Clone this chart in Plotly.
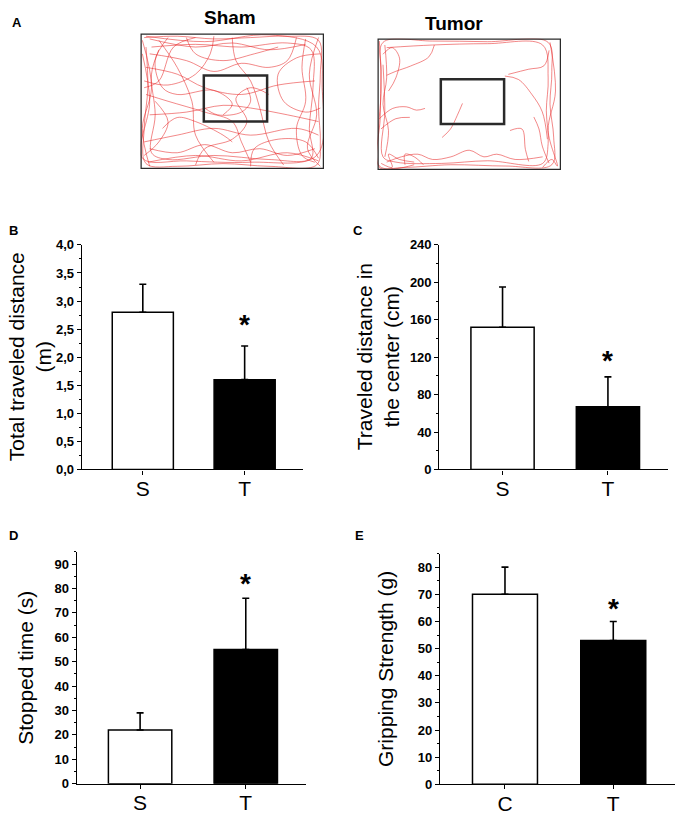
import plotly.graph_objects as go

W, H = 680, 827

# ---- panel A: open-field tracks (normalised arena coords, y up) ----
sham_tracks = [
    [(0.02, 0.97), (0.2, 0.98), (0.4, 0.96), (0.6, 0.97), (0.8, 0.98), (0.97, 0.95), (0.98, 0.7),
     (0.97, 0.45), (0.98, 0.2), (0.96, 0.03), (0.7, 0.02), (0.45, 0.04), (0.2, 0.02), (0.03, 0.04),
     (0.02, 0.3), (0.04, 0.6), (0.03, 0.9)],
    [(0.06, 0.9), (0.3, 0.92), (0.55, 0.9), (0.8, 0.93), (0.93, 0.88), (0.94, 0.6), (0.92, 0.3),
     (0.93, 0.08), (0.7, 0.07), (0.4, 0.1), (0.15, 0.07), (0.06, 0.12), (0.08, 0.4), (0.06, 0.7), (0.1, 0.88)],
    [(0.03, 0.75), (0.2, 0.7), (0.35, 0.6), (0.55, 0.55), (0.75, 0.62), (0.95, 0.65)],
    [(0.05, 0.4), (0.25, 0.42), (0.45, 0.47), (0.6, 0.45), (0.8, 0.4), (0.97, 0.35)],
    [(0.1, 0.95), (0.2, 0.75), (0.28, 0.5), (0.3, 0.25), (0.4, 0.05)],
    [(0.5, 0.97), (0.52, 0.8), (0.6, 0.65), (0.65, 0.45), (0.7, 0.2), (0.78, 0.03)],
    [(0.02, 0.2), (0.2, 0.25), (0.4, 0.3), (0.6, 0.25), (0.85, 0.3), (0.97, 0.25)],
    [(0.15, 0.97), (0.08, 0.8), (0.12, 0.6), (0.2, 0.55), (0.4, 0.58), (0.5, 0.48), (0.45, 0.4)],
    [(0.85, 0.97), (0.8, 0.8), (0.7, 0.75), (0.55, 0.78), (0.4, 0.72), (0.25, 0.8), (0.05, 0.85)],
    [(0.03, 0.55), (0.15, 0.5), (0.35, 0.42), (0.5, 0.35), (0.55, 0.2), (0.6, 0.05)],
    [(0.9, 0.96), (0.88, 0.75), (0.9, 0.5), (0.85, 0.3), (0.88, 0.1), (0.95, 0.05)],
    [(0.05, 0.15), (0.2, 0.12), (0.35, 0.18), (0.5, 0.12), (0.65, 0.15), (0.8, 0.1), (0.95, 0.15)],
    [(0.58, 0.6), (0.6, 0.5), (0.55, 0.42), (0.42, 0.4), (0.35, 0.45)],
    [(0.25, 0.97), (0.3, 0.85), (0.45, 0.8), (0.62, 0.85), (0.75, 0.9)],
    [(0.12, 0.3), (0.2, 0.38), (0.3, 0.35), (0.45, 0.25), (0.5, 0.2)],
    [(0.03, 0.98), (0.35, 0.94), (0.7, 0.99), (0.96, 0.9), (0.99, 0.6), (0.96, 0.1), (0.6, 0.05),
     (0.25, 0.06), (0.01, 0.08), (0.05, 0.5), (0.01, 0.85)],
    [(0.02, 0.6), (0.1, 0.65), (0.18, 0.9), (0.3, 0.97)],
    [(0.4, 0.98), (0.38, 0.85), (0.3, 0.7), (0.15, 0.62), (0.02, 0.65)],
    [(0.98, 0.85), (0.85, 0.82), (0.75, 0.7), (0.78, 0.5), (0.9, 0.42), (0.98, 0.45)],
    [(0.6, 0.02), (0.62, 0.15), (0.75, 0.22), (0.9, 0.2), (0.97, 0.08)],
    [(0.02, 0.1), (0.1, 0.2), (0.15, 0.35), (0.08, 0.5)],
    [(0.3, 0.03), (0.35, 0.15), (0.5, 0.22), (0.58, 0.35), (0.52, 0.52), (0.6, 0.6), (0.7, 0.55)],
    [(0.05, 0.96), (0.3, 0.9), (0.5, 0.93), (0.7, 0.88), (0.9, 0.92)],
    [(0.04, 0.05), (0.3, 0.1), (0.55, 0.06), (0.8, 0.12), (0.97, 0.06)],
    [(0.97, 0.97), (0.92, 0.7), (0.96, 0.4), (0.91, 0.15), (0.98, 0.02)],
    [(0.01, 0.95), (0.06, 0.6), (0.01, 0.3), (0.05, 0.02)],
]

tumor_tracks = [
    [(0.03, 0.97), (0.3, 0.98), (0.6, 0.975), (0.93, 0.97), (0.95, 0.75), (0.94, 0.5), (0.96, 0.25),
     (0.95, 0.04), (0.7, 0.03), (0.4, 0.04), (0.15, 0.02), (0.01, 0.03), (0.015, 0.4), (0.02, 0.75), (0.03, 0.97)],
    [(0.05, 0.93), (0.3, 0.95), (0.6, 0.96), (0.9, 0.95), (0.93, 0.7), (0.92, 0.45), (0.93, 0.2),
     (0.9, 0.05), (0.6, 0.07), (0.35, 0.05), (0.1, 0.06), (0.03, 0.1), (0.04, 0.45), (0.03, 0.8)],
    [(0.05, 0.72), (0.1, 0.75), (0.18, 0.79), (0.28, 0.86), (0.31, 0.95)],
    [(0.03, 0.88), (0.08, 0.93), (0.12, 0.85), (0.1, 0.7), (0.06, 0.6)],
    [(0.694, 0.714), (0.768, 0.688), (0.843, 0.571), (0.898, 0.442), (0.926, 0.234)],
    [(0.713, 0.727), (0.824, 0.766), (0.907, 0.792), (0.935, 0.909)],
    [(0.01, 0.39), (0.083, 0.468), (0.157, 0.48), (0.213, 0.455), (0.259, 0.468)],
    [(0.019, 0.312), (0.1, 0.39), (0.176, 0.40)],
    [(0.463, 0.506), (0.435, 0.416), (0.398, 0.312), (0.352, 0.247)],
    [(0.722, 0.3), (0.787, 0.312), (0.806, 0.156), (0.824, 0.065)],
    [(0.852, 0.403), (0.88, 0.312), (0.898, 0.182), (0.935, 0.052)],
    [(0.05, 0.06), (0.13, 0.1), (0.22, 0.12), (0.3, 0.08), (0.4, 0.1), (0.5, 0.15), (0.58, 0.1),
     (0.65, 0.12), (0.75, 0.08), (0.9, 0.1)],
    [(0.04, 0.95), (0.05, 0.7), (0.03, 0.5), (0.06, 0.3), (0.04, 0.1)],
    [(0.01, 0.98), (0.02, 0.6), (0.005, 0.3), (0.01, 0.02), (0.1, 0.01), (0.2, 0.04)],
    [(0.02, 0.05), (0.08, 0.02), (0.06, 0.12), (0.12, 0.08), (0.2, 0.06)],
    [(0.15, 0.04), (0.15, 0.12), (0.2, 0.1), (0.25, 0.04)],
    [(0.9, 0.02), (0.95, 0.08), (0.98, 0.03), (0.93, 0.3), (0.97, 0.6), (0.94, 0.97)],
]

# ---- bar panels ----
groups_b = ["S", "T"]
dist_total = [2.8, 1.6]
dist_total_err = [0.5, 0.6]

groups_c = ["S", "T"]
dist_center = [152, 67]
dist_center_err = [43, 32]

groups_d = ["S", "T"]
stopped = [22, 55]
stopped_err = [7, 21]

groups_e = ["C", "T"]
grip = [70, 53]
grip_err = [10, 7]


def px(x):
    return x / W


def py(y):
    return 1 - y / H


fig = go.Figure()
track_color = "rgba(232,40,40,0.55)"

arenas = [
    ("x", "y", sham_tracks, (140.5, 324), (27, 165)),
    ("x2", "y2", tumor_tracks, (377.5, 561), (32, 166)),
]
layout_axes = {}
shapes = []
for i, (xr, yr, tracks, (x0, x1), (y0, y1)) in enumerate(arenas):
    for tr in tracks:
        fig.add_trace(go.Scatter(
            x=[p[0] for p in tr], y=[p[1] for p in tr], xaxis=xr, yaxis=yr,
            mode="lines", line=dict(color=track_color, width=1, shape="spline", smoothing=1.0),
            showlegend=False, hoverinfo="skip",
        ))
    sfx = "" if i == 0 else "2"
    layout_axes[f"xaxis{sfx}"] = dict(domain=[px(x0), px(x1)], range=[0, 1], visible=False, anchor=yr)
    layout_axes[f"yaxis{sfx}"] = dict(domain=[py(y1), py(y0)], range=[0, 1], visible=False, anchor=xr)
    shapes.append(dict(type="rect", xref=xr, yref=yr, x0=-0.016, x1=1.016, y0=-0.022, y1=1.022,
                       line=dict(color="#d0d0d0", width=2)))
    shapes.append(dict(type="rect", xref=xr, yref=yr, x0=0, x1=1, y0=0, y1=1,
                       line=dict(color="#2a2a2a", width=2.5)))
    shapes.append(dict(type="rect", xref=xr, yref=yr, x0=0.345, x1=0.69, y0=0.35, y1=0.69,
                       line=dict(color="#2a2a2a", width=2.5)))

panels = [
    # axis idx, cats, vals, errs, x px span, y px span, y range, dtick, minor, fmt, title, title x, star value
    (3, groups_b, dist_total, dist_total_err, (81.7, 302.7), (242.3, 471), [0, 4.0], 0.5, 0.25, ".1f",
     "Total traveled distance<br>(m)", 30, 2.7),
    (4, groups_c, dist_center, dist_center_err, (439.3, 668), (242.3, 471), [0, 240], 40, 20, "d",
     "Traveled distance in<br>the center (cm)", 378, 124),
    (5, groups_d, stopped, stopped_err, (76.7, 306), (555, 791), [0, 95], 10, 5, "d",
     "Stopped time (s)", 26, 85),
    (6, groups_e, grip, grip_err, (440, 675), (556.7, 791.7), [0, 85], 10, 5, "d",
     "Gripping Strength (g)", 386, 67.5),
]

annotations = []
for idx, cats, vals, errs, (x0, x1), (y0, y1), yrange, dt, mdt, fmt, title, tx, star in panels:
    xr, yr = f"x{idx}", f"y{idx}"
    fig.add_trace(go.Bar(
        x=cats, y=vals, xaxis=xr, yaxis=yr, width=0.6,
        marker=dict(color=["white", "black"], line=dict(color="black", width=1.5)),
        error_y=dict(type="data", symmetric=False, array=errs, arrayminus=[0, 0],
                     color="black", thickness=1.6, width=3.5),
        showlegend=False,
    ))
    layout_axes[f"xaxis{idx}"] = dict(
        domain=[px(x0), px(x1)], anchor=yr, range=[-0.6, 1.57], type="category",
        showline=True, linecolor="black", linewidth=1.2, showgrid=False, zeroline=False,
        ticks="outside", ticklen=4, tickwidth=1.2, tickcolor="black", ticklabelstandoff=-4,
        tickfont=dict(family="Liberation Sans, Arial", size=21, color="black"),
    )
    layout_axes[f"yaxis{idx}"] = dict(
        domain=[py(y1), py(y0)], anchor=xr, range=yrange, dtick=dt, tickformat=fmt,
        showline=True, linecolor="black", linewidth=1.2, showgrid=False, zeroline=False,
        ticks="outside", ticklen=4, tickwidth=1.2, tickcolor="black",
        minor=dict(dtick=mdt, ticks="outside", ticklen=2, tickwidth=1, tickcolor="black"),
        tickfont=dict(family="Liberation Sans, Arial", size=13, color="black", weight="bold"),
    )
    annotations.append(dict(
        text=title, textangle=-90, x=px(tx), y=py((y0 + y1) / 2), xref="paper", yref="paper",
        xanchor="center", yanchor="middle", showarrow=False,
        font=dict(family="Liberation Sans, Arial", size=21, color="black"),
    ))
    annotations.append(dict(
        text="<b>*</b>", x=cats[1], y=star, xref=xr, yref=yr, xanchor="center", yanchor="middle",
        yshift=-7, showarrow=False, font=dict(family="Liberation Sans, Arial", size=28, color="black"),
    ))

labels = [("A", 17, 16), ("B", 13, 228), ("C", 358, 228), ("D", 13, 538), ("E", 359, 538)]
for t, lx, ly in labels:
    annotations.append(dict(text=f"<b>{t}</b>", x=px(lx), y=py(ly), xref="paper", yref="paper",
                            xanchor="center", yanchor="middle", showarrow=False,
                            font=dict(family="Liberation Sans, Arial", size=13, color="black")))
for t, lx, ly in [("Sham", 230, 11), ("Tumor", 454, 17)]:
    annotations.append(dict(text=f"<b>{t}</b>", x=px(lx), y=py(ly), xref="paper", yref="paper",
                            xanchor="center", yanchor="middle", showarrow=False,
                            font=dict(family="Liberation Sans, Arial", size=19, color="black")))

fig.update_layout(
    width=W, height=H, margin=dict(l=0, r=0, t=0, b=0),
    paper_bgcolor="white", plot_bgcolor="white",
    separators=",.", bargap=0.4,
    shapes=shapes, annotations=annotations,
    **layout_axes,
)

fig.write_html("out.html", config={"displayModeBar": False},
               post_script="document.body.style.margin='0';")
